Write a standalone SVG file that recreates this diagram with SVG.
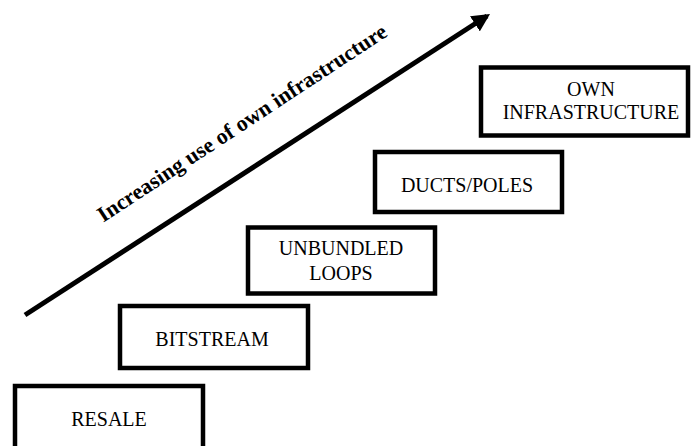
<svg xmlns="http://www.w3.org/2000/svg" width="691" height="446" viewBox="0 0 691 446">
<style>
.box{fill:#fff;stroke:#000;stroke-width:4.5}
.lbl{font-family:"Liberation Serif","Times New Roman",serif;font-size:20px;text-anchor:middle;fill:#000}
.arr{font-family:"Liberation Serif","Times New Roman",serif;font-size:22px;font-weight:bold;text-anchor:middle;fill:#000}
</style>
<defs>
<marker id="ah" viewBox="0 0 10 10" refX="8" refY="5" markerWidth="3.6" markerHeight="3.6" orient="auto" markerUnits="strokeWidth">
<path d="M0,0 L10,5 L0,10 z" fill="#000"/>
</marker>
</defs>
<rect width="691" height="446" fill="#fff"/>
<g id="connectors">
<line x1="25" y1="315" x2="487" y2="16" stroke="#000" stroke-width="5" marker-end="url(#ah)"/>
<text class="arr" x="246" y="129" transform="rotate(-33.3 246 129)">Increasing use of own infrastructure</text>
</g>
<g id="resale">
<rect class="box" x="15" y="386" width="188" height="80"/>
<text class="lbl" x="109" y="426">RESALE</text>
</g>
<g id="bitstream">
<rect class="box" x="120" y="306" width="188" height="62"/>
<text class="lbl" x="212" y="346">BITSTREAM</text>
</g>
<g id="unbundled">
<rect class="box" x="248" y="227.5" width="187" height="66"/>
<text class="lbl" x="341" y="255">UNBUNDLED</text>
<text class="lbl" x="341" y="280">LOOPS</text>
</g>
<g id="ducts">
<rect class="box" x="375" y="152" width="187" height="60"/>
<text class="lbl" x="467" y="192">DUCTS/POLES</text>
</g>
<g id="own">
<rect class="box" x="481" y="67.5" width="207" height="68"/>
<text class="lbl" x="591" y="96">OWN</text>
<text class="lbl" x="591" y="119">INFRASTRUCTURE</text>
</g>
</svg>
